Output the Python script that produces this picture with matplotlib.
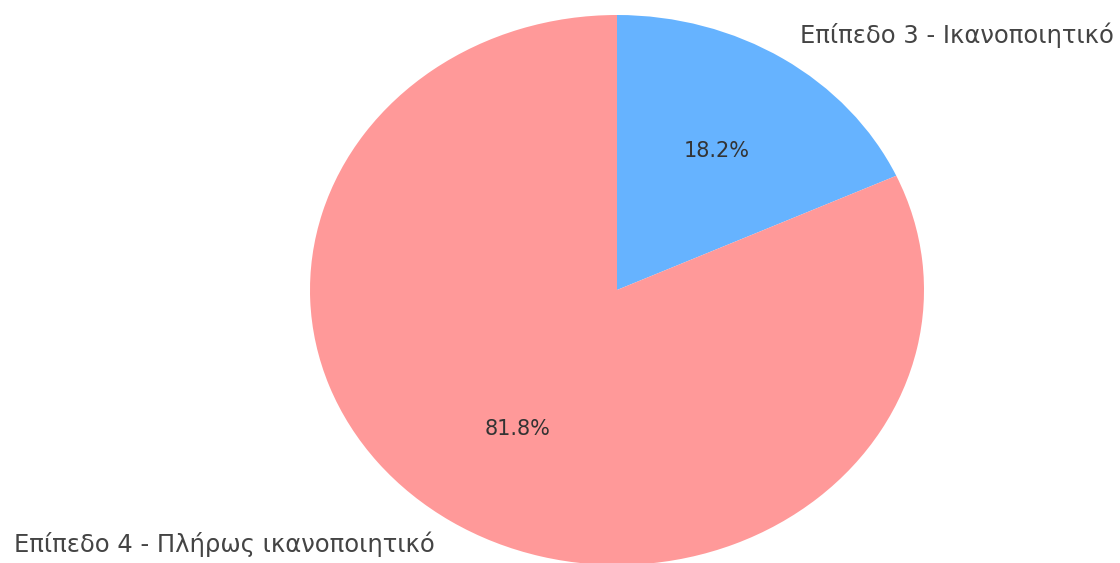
import matplotlib
matplotlib.use('Agg')
import matplotlib.pyplot as plt

labels = ['Επίπεδο 3 - Ικανοποιητικό', 'Επίπεδο 4 - Πλήρως ικανοποιητικό']
values = [2, 9]
colors = ['#66b3ff', '#ff9999']

plt.rcParams['font.family'] = ['DejaVu Sans']

fig = plt.figure(figsize=(11.2, 5.63), dpi=100)
ax = fig.add_axes([0, 0, 1, 1])

wedges, texts, autotexts = ax.pie(
    values, labels=labels, colors=colors, autopct='%1.1f%%',
    startangle=90, counterclock=False,
    textprops={'fontsize': 17.5, 'color': '#444444'},
)
for t in autotexts:
    t.set_color('#333333')
    t.set_fontsize(15)

# the reference is a cropped, horizontally stretched render
ax.set_aspect('auto')
ax.set_xlim(-617 / 307, (1120 - 617) / 307)
ax.set_ylim(-(563 - 290) / 275, 290 / 275)
ax.axis('off')

fig.savefig('out.png', dpi=100)
